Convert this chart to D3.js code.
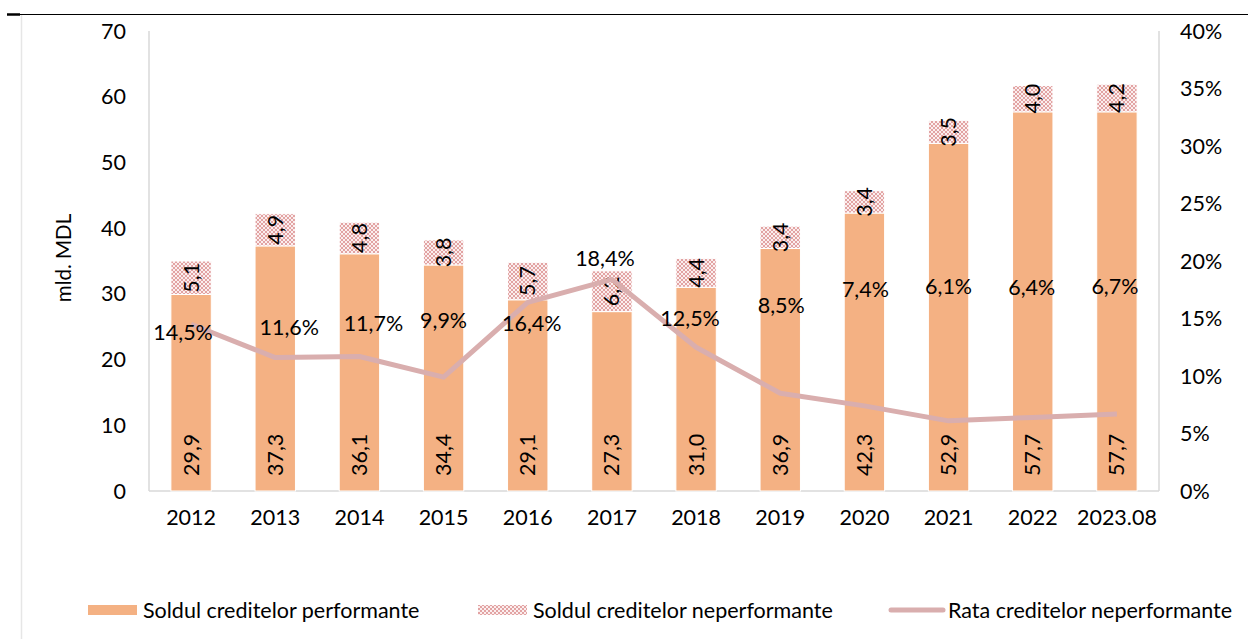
<!DOCTYPE html>
<html>
<head>
<meta charset="utf-8">
<script src="https://cdn.jsdelivr.net/npm/d3@7"></script>
<style>
  body { margin: 0; background: #fff; }
  svg { font-family: Lato, "Open Sans", sans-serif; }
</style>
</head>
<body>
<div id="chart"></div>
<script>
const years = ['2012', '2013', '2014', '2015', '2016', '2017', '2018', '2019', '2020', '2021', '2022', '2023.08'];
const performing = [29.9, 37.3, 36.1, 34.4, 29.1, 27.3, 31.0, 36.9, 42.3, 52.9, 57.7, 57.7];
const nonPerforming = [5.1, 4.9, 4.8, 3.8, 5.7, 6.2, 4.4, 3.4, 3.4, 3.5, 4.0, 4.2];
const npRate = [14.5, 11.6, 11.7, 9.9, 16.4, 18.4, 12.5, 8.5, 7.4, 6.1, 6.4, 6.7];
const leftTicks = [0, 10, 20, 30, 40, 50, 60, 70];
const rightTicks = [0, 5, 10, 15, 20, 25, 30, 35, 40];
const seriesNames = ['Soldul creditelor performante', 'Soldul creditelor neperformante', 'Rata creditelor neperformante'];

// manual label placement for the rate labels (pixels, relative to point)
const rateLabelDx = [-8, 14, 14, 0, 4, -7, -6, 1, 1, 0, -1, -2];
const rateLabelDy = [8, -30, -33, -57, 21, -21, -29, -88, -116, -134, -130, -127];

const W = 1248, H = 639;
const margin = { top: 31, right: 89, bottom: 148, left: 149 };
const width = W - margin.left - margin.right;
const height = H - margin.top - margin.bottom;
const fs = 21.5;

const fmt = (v) => v.toFixed(1).replace('.', ',');

const svg = d3.select('#chart').append('svg')
  .attr('width', W)
  .attr('height', H);

// frame bits
svg.append('line').attr('x1', 7).attr('x2', W).attr('y1', 14.5).attr('y2', 14.5)
  .attr('stroke', '#000').attr('stroke-width', 1.2);
svg.append('line').attr('x1', 7).attr('x2', 20).attr('y1', 14.5).attr('y2', 14.5)
  .attr('stroke', '#000').attr('stroke-width', 2.5);
svg.append('line').attr('x1', 21.5).attr('x2', 21.5).attr('y1', 15).attr('y2', H)
  .attr('stroke', '#e6e6e6').attr('stroke-width', 1.5);

const defs = svg.append('defs');
const pat = defs.append('pattern')
  .attr('id', 'checker')
  .attr('patternUnits', 'userSpaceOnUse')
  .attr('width', 4).attr('height', 4);
pat.append('rect').attr('width', 4).attr('height', 4).attr('fill', '#fbeeee');
pat.append('rect').attr('width', 2).attr('height', 2).attr('fill', '#e2a3a3');
pat.append('rect').attr('x', 2).attr('y', 2).attr('width', 2).attr('height', 2).attr('fill', '#e2a3a3');

const x = d3.scaleBand().domain(years).range([0, width]).paddingInner(0.52).paddingOuter(0.26);
const y = d3.scaleLinear().domain([0, 70]).range([height, 0]);
const y2 = d3.scaleLinear().domain([0, 40]).range([height, 0]);

const plot = svg.append('g').attr('transform', `translate(${margin.left},${margin.top})`);

// axes lines
const axisColor = '#d9d9d9';
plot.append('line').attr('x1', 0).attr('x2', 0).attr('y1', 0).attr('y2', height)
  .attr('stroke', axisColor).attr('stroke-width', 1.5);
plot.append('line').attr('x1', width).attr('x2', width).attr('y1', 0).attr('y2', height)
  .attr('stroke', axisColor).attr('stroke-width', 1.5);
plot.append('line').attr('x1', 0).attr('x2', width).attr('y1', height).attr('y2', height)
  .attr('stroke', axisColor).attr('stroke-width', 1.5);

// tick labels
plot.append('g').selectAll('text')
  .data(leftTicks)
  .join('text')
  .attr('x', -23)
  .attr('y', (d) => y(d))
  .attr('dy', '0.35em')
  .attr('text-anchor', 'end')
  .attr('font-size', fs)
  .text((d) => d);

plot.append('g').selectAll('text')
  .data(rightTicks)
  .join('text')
  .attr('x', width + 21)
  .attr('y', (d) => y2(d))
  .attr('dy', '0.35em')
  .attr('text-anchor', 'start')
  .attr('font-size', fs)
  .text((d) => `${d}%`);

plot.append('g').selectAll('text')
  .data(years)
  .join('text')
  .attr('x', (d) => x(d) + x.bandwidth() / 2)
  .attr('y', height + 34)
  .attr('text-anchor', 'middle')
  .attr('font-size', fs)
  .text((d) => d);

svg.append('text')
  .attr('transform', `translate(64,${margin.top + 227}) rotate(-90)`)
  .attr('dy', '0.35em')
  .attr('text-anchor', 'middle')
  .attr('font-size', 20.5)
  .text('mld. MDL');

// bars
const bars = plot.append('g').selectAll('g')
  .data(years)
  .join('g');

bars.append('rect')
  .attr('x', (d) => x(d))
  .attr('width', x.bandwidth())
  .attr('y', (d, i) => y(performing[i]))
  .attr('height', (d, i) => y(0) - y(performing[i]))
  .attr('fill', '#f4b183')
  .attr('stroke', '#fff')
  .attr('stroke-width', 1);

bars.append('rect')
  .attr('x', (d) => x(d))
  .attr('width', x.bandwidth())
  .attr('y', (d, i) => y(performing[i] + nonPerforming[i]))
  .attr('height', (d, i) => y(performing[i]) - y(performing[i] + nonPerforming[i]))
  .attr('fill', 'url(#checker)')
  .attr('stroke', '#fff')
  .attr('stroke-width', 1);

// line
const line = d3.line()
  .x((d, i) => x(years[i]) + x.bandwidth() / 2)
  .y((d) => y2(d));

plot.append('path')
  .datum(npRate)
  .attr('d', line)
  .attr('fill', 'none')
  .attr('stroke', '#d9aeae')
  .attr('stroke-width', 5)
  .attr('stroke-linejoin', 'round');

// labels in bars
bars.append('text')
  .attr('transform', (d, i) => `translate(${x(d) + x.bandwidth() / 2},${y(0) - 15}) rotate(-90)`)
  .attr('dy', '0.35em')
  .attr('text-anchor', 'start')
  .attr('font-size', fs)
  .text((d, i) => fmt(performing[i]));

bars.append('text')
  .attr('transform', (d, i) => {
    const mid = (y(performing[i]) + y(performing[i] + nonPerforming[i])) / 2;
    return `translate(${x(d) + x.bandwidth() / 2},${mid}) rotate(-90)`;
  })
  .attr('dy', '0.35em')
  .attr('text-anchor', 'middle')
  .attr('font-size', fs)
  .text((d, i) => fmt(nonPerforming[i]));

// rate labels
plot.append('g').selectAll('text')
  .data(npRate)
  .join('text')
  .attr('x', (d, i) => x(years[i]) + x.bandwidth() / 2 + rateLabelDx[i])
  .attr('y', (d, i) => y2(d) + rateLabelDy[i])
  .attr('dy', '0.35em')
  .attr('text-anchor', 'middle')
  .attr('font-size', fs)
  .text((d) => `${fmt(d)}%`);

// legend
const legend = svg.append('g').attr('transform', 'translate(0,610)');
legend.append('rect').attr('x', 88).attr('y', -5).attr('width', 49).attr('height', 10).attr('fill', '#f4b183');
legend.append('text').attr('x', 143).attr('y', 0).attr('dy', '0.35em').attr('font-size', fs).text(seriesNames[0]);
legend.append('rect').attr('x', 478).attr('y', -5).attr('width', 49).attr('height', 10).attr('fill', 'url(#checker)');
legend.append('text').attr('x', 533).attr('y', 0).attr('dy', '0.35em').attr('font-size', fs).text(seriesNames[1]);
legend.append('line').attr('x1', 891).attr('x2', 943).attr('y1', 0).attr('y2', 0)
  .attr('stroke', '#d9aeae').attr('stroke-width', 5).attr('stroke-linecap', 'round');
legend.append('text').attr('x', 948).attr('y', 0).attr('dy', '0.35em').attr('font-size', fs).text(seriesNames[2]);
</script>
</body>
</html>
